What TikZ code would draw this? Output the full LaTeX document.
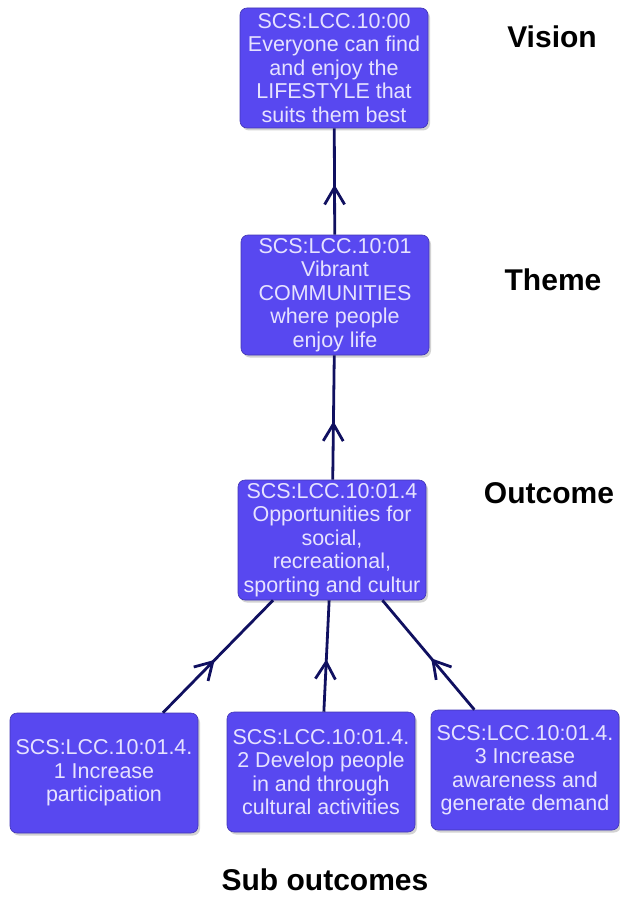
\documentclass[tikz,border=0pt]{standalone}
\usepackage{fontspec}
\setmainfont{Liberation Sans}
\usetikzlibrary{arrows.meta,decorations.markings,shadows}

\definecolor{boxblue}{RGB}{88,72,240}
\definecolor{boxtext}{RGB}{230,226,255}
\definecolor{linknavy}{RGB}{16,16,96}

\begin{document}
\begin{tikzpicture}[x=1pt,y=-1pt,
  goal/.style={draw=boxblue!75!black, line width=0.6pt, fill=boxblue,
    rounded corners=7pt, text=boxtext, align=center,
    minimum width=188pt, minimum height=120pt, inner sep=1pt,
    font=\fontsize{21.5}{23.5}\selectfont,
    drop shadow={shadow xshift=2pt, shadow yshift=-2.5pt, fill=black!35}},
  tier/.style={font=\fontsize{30}{32}\selectfont\bfseries},
  link/.style={draw=linknavy, line width=2.8pt, postaction={decorate},
    decoration={markings,
      mark=at position 0.47 with {\arrow{Straight Barb[length=17pt,width=20pt]}}}}]
  \useasboundingbox (0,0) rectangle (619,915);

  % goal boxes
  \node[goal] (vision)  at (334,68)  {SCS:LCC.10:00\\Everyone can find\\and enjoy the\\LIFESTYLE that\\suits them best};
  \node[goal] (theme)   at (335,295) {SCS:LCC.10:01\\Vibrant\\COMMUNITIES\\where people\\enjoy life};
  \node[goal] (outcome) at (332,540) {SCS:LCC.10:01.4\\Opportunities for\\social,\\recreational,\\sporting and cultur};
  \node[goal] (subA) at (104,773) {SCS:LCC.10:01.4.\\1 Increase\\participation};
  \node[goal] (subB) at (321,772) {SCS:LCC.10:01.4.\\2 Develop people\\in and through\\cultural activities};
  \node[goal] (subC) at (525,770) {SCS:LCC.10:01.4.\\3 Increase\\awareness and\\generate demand};

  % tier labels
  \node[tier] (lblvision)  at (552,37)  {Vision};
  \node[tier] (lbltheme)   at (553,280) {Theme};
  \node[tier] (lbloutcome) at (549,493) {Outcome};
  \node[tier] (lblsub)     at (325,880) {Sub outcomes};

  % links point up to the parent
  \draw[link] (theme) -- (vision);
  \draw[link] (outcome) -- (theme);
  \draw[link] (subA) -- (outcome);
  \draw[link] (subB) -- (outcome);
  \draw[link] (subC) -- (outcome);
\end{tikzpicture}
\end{document}
